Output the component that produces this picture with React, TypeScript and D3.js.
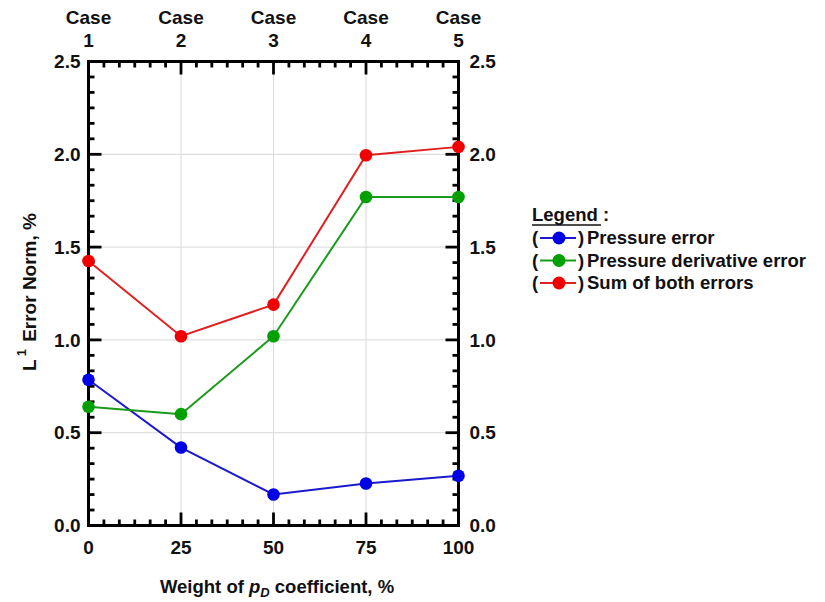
import React from "react";
import * as d3 from "d3";

const weights = [0, 25, 50, 75, 100];
const caseLabels = ["1", "2", "3", "4", "5"];
const pressureError = [0.785, 0.42, 0.167, 0.226, 0.268];
const derivativeError = [0.64, 0.6, 1.02, 1.77, 1.77];
const sumErrors = [1.425, 1.02, 1.19, 1.995, 2.04];
const yTicks = [0, 0.5, 1.0, 1.5, 2.0, 2.5];
const xTicks = [0, 25, 50, 75, 100];

const seriesList = [
  { name: "Pressure error", color: "#0000e6", lineColor: "#1a1acc", values: pressureError },
  { name: "Pressure derivative error", color: "#00a000", lineColor: "#1a9a1a", values: derivativeError },
  { name: "Sum of both errors", color: "#f00000", lineColor: "#e02020", values: sumErrors },
];

const M = { left: 88.5, right: 458.5, top: 61.5, bottom: 525.5 };
const FONT = "'Liberation Sans', Arial, sans-serif";

export default function App() {
  const x = d3.scaleLinear().domain([0, 100]).range([M.left, M.right]);
  const y = d3.scaleLinear().domain([0, 2.5]).range([M.bottom, M.top]);
  const line = d3
    .line<number>()
    .x((_, i) => x(weights[i]))
    .y((d) => y(d));

  const xMinor = d3.range(0, 100.001, 25 / 6).filter((v) => !xTicks.some((t) => Math.abs(t - v) < 1e-6));
  const yMinor = d3.range(0, 2.5001, 0.5 / 6).filter((v) => !yTicks.some((t) => Math.abs(t - v) < 1e-6));
  const majLen = 13;
  const minLen = 6;

  return (
    <svg width={825} height={602} style={{ position: "absolute", left: 0, top: 0, background: "#fff" }} fontFamily={FONT}>
      <rect x={0} y={0} width={825} height={602} fill="#fff" />
      {/* grid */}
      {xTicks.slice(1, -1).map((t) => (
        <line key={"gx" + t} x1={x(t)} x2={x(t)} y1={M.top} y2={M.bottom} stroke="#d8d8d8" strokeWidth={1} />
      ))}
      {yTicks.slice(1, -1).map((t) => (
        <line key={"gy" + t} x1={M.left} x2={M.right} y1={y(t)} y2={y(t)} stroke="#d8d8d8" strokeWidth={1} />
      ))}
      {/* ticks */}
      <g stroke="#000" strokeWidth={2.8}>
        {xMinor.map((t) => (
          <g key={"xm" + t}>
            <line x1={x(t)} x2={x(t)} y1={M.bottom} y2={M.bottom - minLen} />
            <line x1={x(t)} x2={x(t)} y1={M.top} y2={M.top + minLen} />
          </g>
        ))}
        {xTicks.map((t) => (
          <g key={"xM" + t}>
            <line x1={x(t)} x2={x(t)} y1={M.bottom} y2={M.bottom - majLen} />
            <line x1={x(t)} x2={x(t)} y1={M.top} y2={M.top + majLen} />
          </g>
        ))}
        {yMinor.map((t) => (
          <g key={"ym" + t}>
            <line x1={M.left} x2={M.left + minLen} y1={y(t)} y2={y(t)} />
            <line x1={M.right} x2={M.right - minLen} y1={y(t)} y2={y(t)} />
          </g>
        ))}
        {yTicks.map((t) => (
          <g key={"yM" + t}>
            <line x1={M.left} x2={M.left + majLen} y1={y(t)} y2={y(t)} />
            <line x1={M.right} x2={M.right - majLen} y1={y(t)} y2={y(t)} />
          </g>
        ))}
      </g>
      <rect x={M.left} y={M.top} width={M.right - M.left} height={M.bottom - M.top} fill="none" stroke="#000" strokeWidth={3} />
      {/* series */}
      {seriesList.map((s) => (
        <g key={s.name}>
          <path d={line(s.values) || ""} fill="none" stroke={s.lineColor} strokeWidth={2} />
          {s.values.map((v, i) => (
            <circle key={i} cx={x(weights[i])} cy={y(v)} r={6.3} fill={s.color} />
          ))}
        </g>
      ))}
      {/* tick labels */}
      <g fontSize={19} fontWeight="bold" fill="#111">
        {yTicks.map((t) => (
          <text key={"yl" + t} x={M.left - 8} y={y(t)} dy="0.35em" textAnchor="end">
            {t.toFixed(1)}
          </text>
        ))}
        {yTicks.map((t) => (
          <text key={"yr" + t} x={M.right + 11} y={y(t)} dy="0.35em" textAnchor="start">
            {t.toFixed(1)}
          </text>
        ))}
        {xTicks.map((t) => (
          <text key={"xl" + t} x={x(t)} y={M.bottom + 28} textAnchor="middle">
            {t}
          </text>
        ))}
        {xTicks.map((t, i) => (
          <g key={"case" + t}>
            <text x={x(t)} y={24} textAnchor="middle">Case</text>
            <text x={x(t)} y={47} textAnchor="middle">{caseLabels[i]}</text>
          </g>
        ))}
        {/* axis titles */}
        <text x={277} y={593} textAnchor="middle" fontSize={18.5}>
          Weight of{" "}
          <tspan fontStyle="italic">p</tspan>
          <tspan fontStyle="italic" fontSize={13} dy={4}>D</tspan>
          <tspan dy={-4}> coefficient, %</tspan>
        </text>
        <text transform={`translate(36,${292}) rotate(-90)`} textAnchor="middle" fontSize={19}>
          L<tspan fontSize={13} dy={-10} dx={3}>1</tspan>
          <tspan dy={10} dx={2}> Error Norm, %</tspan>
        </text>
      </g>
      {/* legend */}
      <g fontSize={18.5} fontWeight="bold" fill="#111">
        <text x={532} y={221}>Legend</text>
        <text x={603} y={221}> :</text>
        <line x1={532} x2={601} y1={225} y2={225} stroke="#111" strokeWidth={1.6} />
        {seriesList.map((s, i) => {
          const yy = 244 + i * 22.5;
          return (
            <g key={"lg" + s.name}>
              <text x={532} y={yy}>(</text>
              <line x1={540} x2={576} y1={yy - 6} y2={yy - 6} stroke={s.lineColor} strokeWidth={2} />
              <circle cx={559} cy={yy - 6} r={6.5} fill={s.color} />
              <text x={578} y={yy}>)</text>
              <text x={587} y={yy}>{s.name}</text>
            </g>
          );
        })}
      </g>
    </svg>
  );
}
